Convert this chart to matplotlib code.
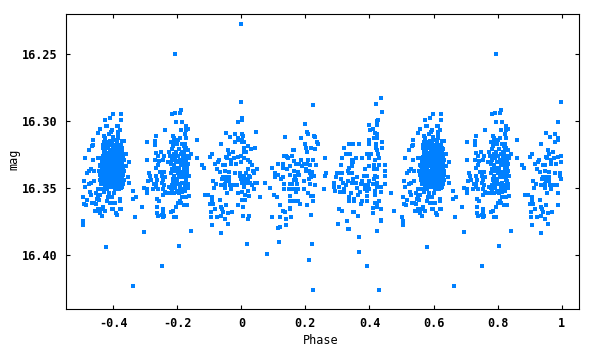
import numpy as np
import matplotlib
matplotlib.use('Agg')
import matplotlib.pyplot as plt

# light curve, one cycle, phase < 0 gets repeated at phase + 1
# group around -0.4
phase_a = [-.401,-.376,-.411,-.426,-.376,-.423,-.420,-.442,-.389,-.386,
           -.379,-.448,-.404,-.407,-.386,-.464,-.429,-.414,-.426,-.401,
           -.386,-.386,-.367,-.373,-.429,-.420,-.411,-.398,-.464,-.467,
           -.476,-.432,-.432,-.426,-.373,-.489,-.464,-.448,-.439,-.361,
           -.351,-.361,-.373,-.442,-.470,-.476,-.482,-.460,-.445,-.354,
           -.367,-.351,-.460,-.470,-.476,-.492,-.488,-.473,-.470,-.495,
           -.482,-.492,-.485,-.467,-.460,-.454,-.448,-.442,-.454,-.451,
           -.445,-.454,-.457,-.448,-.436,-.426,-.442,-.436,-.404,-.401,
           -.376,-.379,-.392,-.389,-.432,-.420,-.411,-.398,-.395,-.379,
           -.379,-.417,-.404,-.414,-.398,-.429,-.442,-.448,-.432,-.420,
           -.376,-.373,-.382,-.395,-.339,-.339,-.329,-.311,-.332,-.495,
           -.495,-.421,-.304,-.337]
mag_a = [16.295,16.295,16.298,16.299,16.299,16.304,16.304,16.306,16.304,16.304,
         16.307,16.309,16.307,16.308,16.308,16.314,16.311,16.310,16.313,16.312,
         16.311,16.313,16.315,16.315,16.316,16.316,16.315,16.314,16.318,16.319,
         16.322,16.318,16.320,16.321,16.320,16.328,16.329,16.328,16.328,16.325,
         16.331,16.334,16.325,16.333,16.336,16.337,16.339,16.337,16.337,16.342,
         16.344,16.346,16.345,16.346,16.347,16.345,16.349,16.353,16.355,16.357,
         16.359,16.362,16.363,16.361,16.361,16.362,16.357,16.355,16.354,16.358,
         16.359,16.367,16.367,16.366,16.366,16.367,16.369,16.371,16.366,16.366,
         16.366,16.366,16.369,16.370,16.364,16.360,16.361,16.361,16.361,16.358,
         16.360,16.357,16.357,16.354,16.354,16.353,16.351,16.351,16.351,16.351,
         16.350,16.349,16.351,16.351,16.352,16.358,16.357,16.364,16.372,16.375,
         16.378,16.394,16.383,16.423]

# the solid part of that group
phase_core = [-.424,-.415,-.405,-.396,-.388,-.379,-.371,
              -.429,-.418,-.409,-.399,-.391,-.382,-.373,
              -.431,-.421,-.412,-.402,-.393,-.384,-.375,-.368,
              -.433,-.424,-.414,-.405,-.396,-.386,-.377,-.370,
              -.435,-.426,-.417,-.407,-.398,-.389,-.380,-.371,
              -.437,-.427,-.418,-.409,-.400,-.391,-.381,-.372,
              -.435,-.425,-.416,-.406,-.397,-.388,-.379,-.370,
              -.439,-.429,-.420,-.411,-.401,-.392,-.383,-.374,
              -.436,-.427,-.418,-.408,-.399,-.390,-.381,-.372,
              -.438,-.428,-.419,-.410,-.401,-.391,-.382,-.373,
              -.435,-.426,-.416,-.407,-.398,-.388,-.379,-.371,
              -.433,-.424,-.415,-.405,-.396,-.387,-.378,
              -.430,-.421,-.411,-.402,-.393,-.384,-.375,
              -.427,-.418,-.409,-.399,-.390,-.381,
              -.428,-.419,-.410,-.401,-.392,-.383,-.420,-.404,-.388,-.376,
              -.433,-.423,-.413,-.403,-.394,-.385,-.376,-.366,
              -.440,-.431,-.422,-.412,-.403,-.394,-.385,-.367,
              -.441,-.432,-.423,-.413,-.404,-.395,-.386,-.376,-.367,
              -.440,-.430,-.421,-.412,-.403,-.394,-.384,-.375,-.368,
              -.437,-.428,-.418,-.409,-.400,-.390,-.381,-.369]
mag_core = [16.321,16.320,16.322,16.321,16.320,16.322,16.321,
            16.323,16.324,16.323,16.324,16.323,16.324,16.323,
            16.326,16.325,16.326,16.325,16.326,16.325,16.326,16.325,
            16.328,16.327,16.328,16.328,16.327,16.328,16.327,16.328,
            16.330,16.331,16.330,16.330,16.331,16.330,16.331,16.330,
            16.333,16.332,16.333,16.332,16.333,16.332,16.333,16.332,
            16.335,16.335,16.334,16.335,16.334,16.335,16.334,16.335,
            16.337,16.337,16.336,16.337,16.336,16.337,16.336,16.337,
            16.339,16.339,16.338,16.339,16.338,16.339,16.338,16.339,
            16.341,16.341,16.340,16.341,16.340,16.341,16.340,16.341,
            16.343,16.343,16.342,16.343,16.342,16.343,16.342,16.343,
            16.345,16.344,16.345,16.344,16.345,16.344,16.345,
            16.347,16.346,16.347,16.346,16.347,16.346,16.347,
            16.349,16.348,16.349,16.348,16.349,16.348,
            16.318,16.319,16.318,16.319,16.318,16.319,16.316,16.317,16.316,16.318,
            16.327,16.329,16.329,16.327,16.329,16.327,16.329,16.329,
            16.334,16.334,16.331,16.334,16.331,16.334,16.331,16.334,
            16.340,16.340,16.342,16.340,16.342,16.340,16.342,16.342,16.337,
            16.344,16.345,16.342,16.345,16.344,16.342,16.345,16.345,16.340,
            16.347,16.344,16.348,16.344,16.349,16.344,16.348,16.347]

# group around -0.2
phase_b = [-.295,-.267,-.270,-.270,-.239,-.295,-.267,-.251,-.261,-.242,
           -.270,-.245,-.258,-.230,-.261,-.267,-.289,-.286,-.267,-.245,
           -.254,-.242,-.248,-.239,-.283,-.292,-.264,-.245,-.273,-.267,
           -.276,-.304,-.295,-.295,-.267,-.261,-.248,-.242,-.245,-.239,
           -.245,-.233,-.217,-.226,-.217,-.264,-.258,-.264,-.245,-.264,
           -.248,-.242,-.245,-.211,-.205,-.205,-.198,-.192,-.189,-.180,
           -.170,-.186,-.174,-.164,-.177,-.186,-.201,-.211,-.195,-.223,
           -.189,-.217,-.208,-.192,-.205,-.186,-.174,-.167,-.174,-.214,
           -.211,-.189,-.177,-.174,-.192,-.198,-.220,-.211,-.177,-.226,
           -.217,-.211,-.214,-.201,-.186,-.180,-.174,-.167,-.223,-.217,
           -.208,-.198,-.189,-.180,-.170,-.164,-.167,-.220,-.211,-.201,
           -.192,-.183,-.174,-.217,-.208,-.198,-.189,-.180,-.170,-.220,
           -.211,-.198,-.189,-.180,-.170,-.164,-.214,-.201,-.192,-.183,
           -.174,-.167,-.208,-.195,-.186,-.177,-.167,-.220,-.139,-.157,
           -.139,-.124,-.117,-.206,-.248,-.195,-.158,
           -.205,-.196,-.184,-.176,-.214,-.203,-.193,-.185,-.172,-.206,
           -.195,-.178,-.168,-.213,-.203,-.194,-.184,-.176,-.207,-.190,
           -.172,-.212,-.199,-.186,-.176]
mag_b = [16.316,16.311,16.315,16.318,16.307,16.329,16.324,16.323,16.326,16.326,
         16.329,16.329,16.330,16.331,16.333,16.335,16.339,16.341,16.341,16.338,
         16.338,16.338,16.341,16.342,16.344,16.345,16.344,16.344,16.347,16.347,
         16.351,16.350,16.351,16.354,16.349,16.351,16.346,16.348,16.351,16.353,
         16.355,16.354,16.351,16.349,16.348,16.358,16.360,16.364,16.366,16.369,
         16.370,16.371,16.372,16.372,16.372,16.364,16.361,16.360,16.361,16.363,
         16.363,16.357,16.357,16.356,16.352,16.353,16.353,16.354,16.354,16.354,
         16.292,16.295,16.294,16.294,16.301,16.301,16.304,16.306,16.307,16.311,
         16.313,16.307,16.310,16.313,16.313,16.314,16.316,16.316,16.317,16.323,
         16.321,16.325,16.319,16.317,16.317,16.319,16.320,16.322,16.326,16.329,
         16.328,16.326,16.325,16.325,16.326,16.328,16.332,16.332,16.333,16.331,
         16.329,16.328,16.331,16.336,16.337,16.335,16.333,16.333,16.335,16.339,
         16.341,16.339,16.338,16.338,16.339,16.341,16.344,16.344,16.342,16.342,
         16.344,16.347,16.347,16.347,16.346,16.348,16.350,16.350,16.314,16.325,
         16.328,16.333,16.335,16.250,16.408,16.393,16.382,
         16.323,16.321,16.323,16.322,16.327,16.331,16.330,16.331,16.329,16.335,
         16.336,16.336,16.337,16.343,16.343,16.340,16.340,16.341,16.350,16.349,
         16.345,16.346,16.352,16.351,16.349]

# group around 0
phase_c = [-.002,.001,.001,-.011,-.049,-.036,-.021,.001,.004,.045,
           -.011,-.011,.001,.007,.001,-.021,-.064,.020,.007,.029,
           .042,-.043,-.027,-.039,.007,.014,-.092,-.099,-.049,-.046,
           -.024,-.011,-.002,.007,-.033,-.071,-.074,-.083,-.058,-.052,
           -.033,-.018,-.002,.020,.026,.032,-.077,-.067,-.052,-.039,
           -.021,-.005,.020,.035,.048,.039,.014,.007,.023,-.005,
           -.002,.011,.020,.026,-.058,-.046,-.039,-.089,-.061,-.049,
           -.039,-.080,-.064,-.052,-.036,-.027,-.014,.001,.014,.026,
           .032,.042,.048,.073,-.086,-.052,-.033,-.033,.007,.020,
           .039,.089,-.046,-.011,.001,.011,.023,.057,.101,.110,
           -.114,-.105,-.092,-.092,-.067,.001,.011,-.011,-.099,-.089,
           -.049,.004,-.064,-.061,-.058,-.083,-.096,-.030,-.096,-.077,
           -.064,-.052,.004,.023,.020,.000,.017,-.064]
mag_c = [16.286,16.298,16.299,16.301,16.309,16.312,16.310,16.310,16.311,16.308,
         16.313,16.314,16.314,16.316,16.316,16.316,16.317,16.319,16.320,16.321,
         16.320,16.322,16.323,16.325,16.323,16.323,16.325,16.327,16.327,16.328,
         16.328,16.327,16.326,16.328,16.329,16.329,16.331,16.332,16.333,16.333,
         16.332,16.332,16.331,16.329,16.331,16.333,16.336,16.338,16.337,16.338,
         16.339,16.339,16.336,16.337,16.336,16.339,16.339,16.341,16.341,16.341,
         16.343,16.343,16.343,16.342,16.342,16.342,16.342,16.345,16.343,16.345,
         16.345,16.347,16.348,16.347,16.348,16.348,16.348,16.346,16.346,16.346,
         16.348,16.346,16.346,16.346,16.350,16.350,16.351,16.349,16.349,16.352,
         16.351,16.350,16.354,16.354,16.353,16.355,16.356,16.357,16.355,16.357,
         16.355,16.355,16.357,16.359,16.359,16.359,16.359,16.363,16.362,16.362,
         16.363,16.364,16.364,16.366,16.368,16.366,16.368,16.368,16.372,16.372,
         16.371,16.373,16.371,16.371,16.373,16.228,16.392,16.384]

# group around 0.2
phase_d = [.225,.198,.204,.207,.135,.185,.226,.229,.198,.235,
           .238,.201,.216,.229,.160,.163,.204,.132,.138,.145,
           .157,.142,.185,.207,.223,.163,.170,.179,.195,.204,
           .113,.129,.095,.129,.142,.151,.188,.201,.213,.232,
           .201,.210,.220,.104,.163,.176,.113,.104,.123,.129,
           .151,.167,.179,.213,.226,.216,.163,.170,.195,.210,
           .132,.151,.157,.173,.213,.229,.132,.148,.160,.170,
           .176,.195,.170,.101,.110,.151,.207,.216,.223,.163,
           .151,.176,.182,.223,.120,.204,.151,.151,.129,.135,
           .216,.095,.120,.138,.154,.210,.223,.117,.366]
mag_d = [16.288,16.302,16.308,16.310,16.312,16.313,16.311,16.312,16.317,16.316,
         16.317,16.320,16.320,16.321,16.322,16.322,16.323,16.326,16.326,16.328,
         16.326,16.327,16.329,16.329,16.329,16.330,16.332,16.332,16.332,16.332,
         16.332,16.332,16.335,16.335,16.336,16.334,16.334,16.336,16.333,16.333,
         16.337,16.337,16.338,16.339,16.337,16.338,16.340,16.342,16.343,16.342,
         16.340,16.341,16.340,16.339,16.341,16.342,16.344,16.344,16.345,16.343,
         16.347,16.347,16.347,16.347,16.347,16.348,16.351,16.351,16.351,16.351,
         16.351,16.351,16.353,16.355,16.357,16.356,16.354,16.356,16.356,16.360,
         16.360,16.360,16.362,16.360,16.363,16.363,16.365,16.366,16.367,16.368,
         16.370,16.372,16.372,16.373,16.372,16.404,16.426,16.390,16.398]

# group around 0.4
phase_e = [.435,.419,.438,.428,.425,.397,.422,.410,.403,.416,
           .422,.425,.400,.413,.438,.400,.419,.335,.350,.366,
           .322,.419,.438,.425,.328,.338,.391,.406,.428,.260,
           .313,.357,.344,.378,.397,.416,.431,.350,.347,.310,
           .447,.335,.347,.397,.413,.431,.332,.385,.413,.425,
           .447,.263,.300,.310,.313,.344,.260,.297,.335,.382,
           .391,.416,.447,.310,.332,.360,.350,.378,.397,.413,
           .425,.288,.316,.328,.344,.357,.372,.385,.394,.410,
           .425,.447,.288,.304,.319,.360,.385,.400,.422,.435,
           .257,.291,.307,.319,.391,.369,.435,.416,.341,.363,
           .416,.466,.391,.335,.335,.353,.353,.431,.372,.378,
           .391,.416,.410,.422,.425,.435,.304,.313,.350,.410,
           .475,.363,.435,.391,.429]
mag_e = [16.283,16.287,16.293,16.299,16.300,16.303,16.303,16.306,16.307,16.309,
         16.310,16.313,16.314,16.313,16.316,16.317,16.317,16.317,16.317,16.317,
         16.320,16.320,16.320,16.322,16.325,16.325,16.325,16.325,16.325,16.328,
         16.328,16.328,16.329,16.328,16.328,16.329,16.328,16.331,16.331,16.333,
         16.333,16.335,16.334,16.334,16.333,16.333,16.337,16.336,16.336,16.336,
         16.337,16.339,16.339,16.339,16.339,16.339,16.341,16.342,16.339,16.341,
         16.341,16.341,16.341,16.343,16.345,16.342,16.343,16.345,16.345,16.343,
         16.342,16.346,16.346,16.348,16.346,16.346,16.347,16.348,16.348,16.347,
         16.346,16.347,16.349,16.349,16.351,16.350,16.351,16.351,16.349,16.349,
         16.351,16.352,16.353,16.353,16.352,16.353,16.353,16.352,16.354,16.355,
         16.355,16.354,16.356,16.357,16.360,16.358,16.360,16.360,16.362,16.360,
         16.360,16.361,16.365,16.363,16.364,16.366,16.366,16.367,16.368,16.369,
         16.367,16.371,16.374,16.408,16.426]

# stragglers under the groups
phase_low = [.004,.023,.120,.113,.141,.216,.079,.220,.301,.329,
             .332,.335,.366,.435,.423,.475,.503,.351,.304,-.092,
             -.042,-.042,-.261,-.245,-.220,-.214]
mag_low = [16.371,16.371,16.379,16.380,16.378,16.370,16.399,16.392,16.377,16.375,
           16.381,16.381,16.387,16.375,16.382,16.367,16.372,16.368,16.366,16.378,
           16.369,16.377,16.371,16.369,16.368,16.367]

yticks = [16.25, 16.30, 16.35, 16.40]
xticks = [-0.4, -0.2, 0, 0.2, 0.4, 0.6, 0.8, 1]
xtick_labels = ['-0.4', '-0.2', '0', '0.2', '0.4', '0.6', '0.8', '1']

phase = np.array(phase_a + phase_core + phase_b + phase_c + phase_d + phase_e + phase_low)
mag = np.array(mag_a + mag_core + mag_b + mag_c + mag_d + mag_e + mag_low)
repeat = phase < 0

plt.rcParams['font.family'] = ['DejaVu Sans Mono']
plt.rcParams['font.weight'] = 'bold'

fig = plt.figure(figsize=(6, 3.5), dpi=100)
ax = fig.add_axes([65.5/600, 1 - 308.5/350, 513.5/600, 295/350])
ax.plot(phase, mag, 's', color='#0080ff', ms=2.2, mew=0, antialiased=False)
ax.plot(phase[repeat] + 1, mag[repeat], 's', color='#0080ff', ms=2.2, mew=0, antialiased=False)

ax.set_xlim(-0.5488, 1.054)
ax.set_ylim(16.44, 16.2198)
ax.set_xticks(xticks)
ax.set_xticklabels(xtick_labels)
ax.set_yticks(yticks)
ax.set_yticklabels(['%.2f' % y for y in yticks])
ax.tick_params(direction='in', top=True, right=True, length=3, width=0.8, labelsize=8.5, pad=6)
for s in ax.spines.values():
    s.set_linewidth(0.8)
ax.set_xlabel('Phase', fontsize=8.5)
ax.set_ylabel('mag', fontsize=8.5)
ax.xaxis.set_label_coords(0.4966, -0.088)
ax.yaxis.set_label_coords(-0.087, 0.505)

fig.savefig('out.png', dpi=100)
